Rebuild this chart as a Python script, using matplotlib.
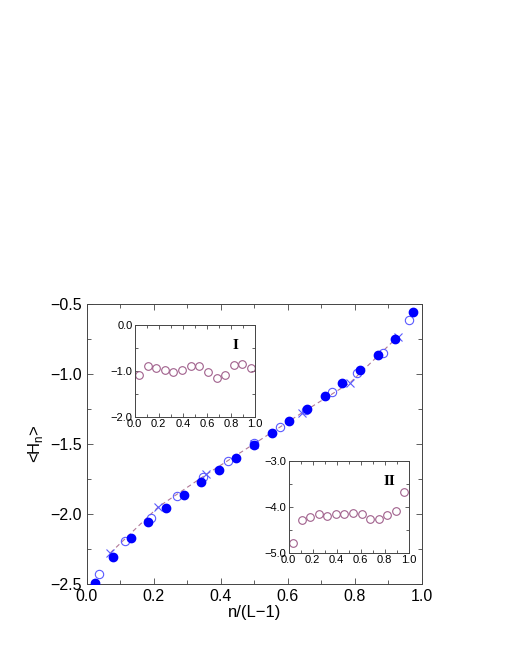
import matplotlib
matplotlib.use("Agg")
import matplotlib.pyplot as plt
from matplotlib.ticker import MultipleLocator

plt.rcParams['font.family'] = ['Liberation Sans', 'DejaVu Sans']

# ---- main panel data ----
filled_x = [0.026, 0.079, 0.132, 0.184, 0.237, 0.289, 0.342, 0.395, 0.447, 0.500,
            0.553, 0.605, 0.658, 0.711, 0.763, 0.816, 0.868, 0.921, 0.974]
filled_y = [-2.490, -2.305, -2.171, -2.054, -1.955, -1.860, -1.771, -1.683, -1.596, -1.503,
            -1.423, -1.336, -1.248, -1.158, -1.066, -0.967, -0.864, -0.749, -0.558]

open_x = [0.038, 0.115, 0.192, 0.269, 0.346, 0.423, 0.500, 0.577, 0.654, 0.731,
          0.808, 0.885, 0.962]
open_y = [-2.428, -2.193, -2.028, -1.872, -1.733, -1.622, -1.494, -1.378, -1.255, -1.128,
          -0.993, -0.848, -0.611]

cross_x = [0.071, 0.214, 0.357, 0.500, 0.643, 0.786, 0.929]
cross_y = [-2.276, -1.948, -1.716, -1.497, -1.275, -1.061, -0.731]

# ---- inset I data ----
in1_x = [0.036, 0.107, 0.179, 0.250, 0.321, 0.393, 0.464, 0.536, 0.607, 0.679,
         0.750, 0.821, 0.893, 0.964]
in1_y = [-1.085, -0.888, -0.928, -0.972, -1.016, -0.987, -0.896, -0.896, -1.032, -1.145,
         -1.099, -0.882, -0.845, -0.945]

# ---- inset II data ----
in2_x = in1_x
in2_y = [-4.770, -4.285, -4.207, -4.155, -4.185, -4.148, -4.148, -4.134, -4.141, -4.249,
         -4.249, -4.177, -4.090, -3.678]

xtick_vals = [0.0, 0.2, 0.4, 0.6, 0.8, 1.0]
xtick_labels = ['0.0', '0.2', '0.4', '0.6', '0.8', '1.0']
main_ytick_vals = [-2.5, -2.0, -1.5, -1.0, -0.5]
main_ytick_labels = ['\u22122.5', '\u22122.0', '\u22121.5', '\u22121.0', '\u22120.5']

blue = '#0000ff'
lblue = '#5a5aff'
mauve = '#b07898'
imauve = '#a0608c'

fig = plt.figure(figsize=(5.1, 6.6), dpi=100)

ax = fig.add_axes([0.170, 0.115, 0.657, 0.424])
ax.plot(cross_x, cross_y, linestyle=(0, (4, 3)), color=mauve, lw=0.8, zorder=1)
ax.plot(cross_x, cross_y, linestyle='none', marker='x', ms=5.5, mew=0.8,
        color=lblue, zorder=2)
ax.plot(open_x, open_y, linestyle='none', marker='o', ms=6, mfc='none',
        mec=lblue, mew=0.8, zorder=3)
ax.plot(filled_x, filled_y, linestyle='none', marker='o', ms=6, color=blue,
        mec=blue, zorder=4)

ax.set_xlim(0, 1)
ax.set_ylim(-2.5, -0.5)
ax.set_xticks(xtick_vals)
ax.set_xticklabels(xtick_labels)
ax.xaxis.set_minor_locator(MultipleLocator(0.1))
ax.set_yticks(main_ytick_vals)
ax.set_yticklabels(main_ytick_labels)
ax.yaxis.set_minor_locator(MultipleLocator(0.25))
ax.tick_params(which='both', direction='in', top=True, right=True, labelsize=11.5,
               width=0.6, color='#444444')
ax.tick_params(which='major', length=4)
ax.tick_params(which='minor', length=3)
for s in ax.spines.values():
    s.set_linewidth(0.7)
    s.set_color('#444444')
ax.set_xlabel('n/(L\u22121)', fontsize=12, labelpad=1)
ax.set_ylabel('<H$_\\mathregular{n}$>', fontsize=12, labelpad=4)


def style_inset(a, ylo, yhi):
    a.set_xlim(0, 1)
    a.set_ylim(ylo, yhi)
    a.set_xticks(xtick_vals)
    a.set_xticklabels(xtick_labels)
    a.xaxis.set_minor_locator(MultipleLocator(0.1))
    yv = [ylo, (ylo + yhi) / 2, yhi]
    a.set_yticks(yv)
    a.set_yticklabels(['\u2212%.1f' % abs(v) if v < 0 else '%.1f' % v for v in yv])
    a.yaxis.set_minor_locator(MultipleLocator(0.5))
    a.tick_params(which='both', direction='in', top=True, right=True,
                  labelsize=8, width=0.6, color='#444444', pad=1.5)
    a.tick_params(which='major', length=3)
    a.tick_params(which='minor', length=2)
    for s in a.spines.values():
        s.set_linewidth(0.7)
        s.set_color('#444444')


ins1 = fig.add_axes([0.264, 0.3686, 0.2365, 0.139])
ins1.plot(in1_x, in1_y, linestyle='none', marker='o', ms=5.5, mfc='none',
          mec=imauve, mew=0.8)
style_inset(ins1, -2.0, 0.0)
ins1.text(0.84, 0.78, 'I', transform=ins1.transAxes, fontsize=11, fontweight='bold',
          family='Liberation Serif', ha='center', va='center')

ins2 = fig.add_axes([0.566, 0.1616, 0.2353, 0.1399])
ins2.plot(in2_x, in2_y, linestyle='none', marker='o', ms=5.5, mfc='none',
          mec=imauve, mew=0.8)
style_inset(ins2, -5.0, -3.0)
ins2.text(0.84, 0.78, 'II', transform=ins2.transAxes, fontsize=11, fontweight='bold',
          family='Liberation Serif', ha='center', va='center')

fig.savefig('out.png', dpi=100)
